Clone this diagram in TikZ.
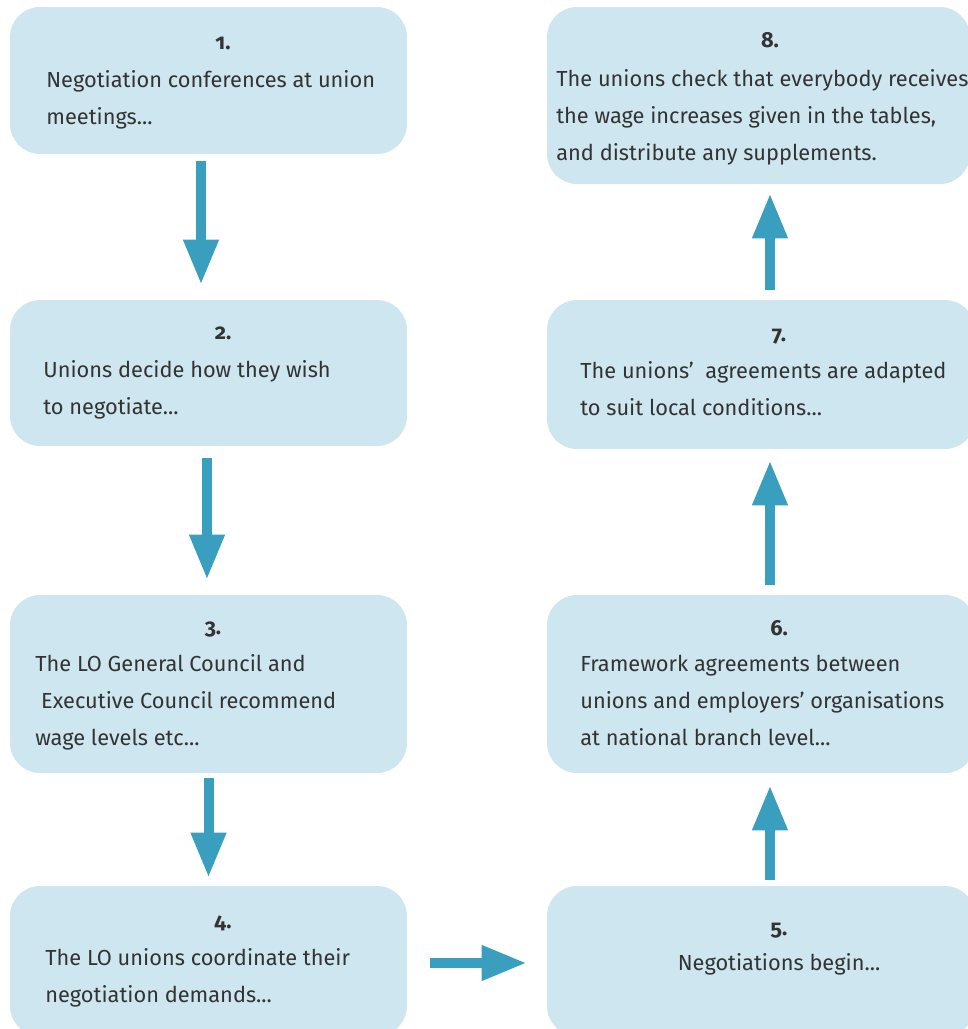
\documentclass[tikz,border=0pt]{standalone}
\usepackage{fontspec}
\setmainfont{Fira Sans}[Numbers=OldStyle]
\usetikzlibrary{arrows.meta,positioning}

\definecolor{boxblue}{HTML}{CDE6EF}
\definecolor{arrowblue}{HTML}{3A9FBF}
\definecolor{ink}{HTML}{333333}

\begin{document}
\begin{tikzpicture}[x=0.02cm, y=-0.02cm,
  stage/.style={fill=boxblue, rounded corners=0.6cm, inner sep=0pt},
  num/.style={font=\bfseries\fontsize{12.4}{21}\selectfont, text=ink, inner sep=0pt, anchor=base},
  txt/.style={font=\fontsize{12.4}{21}\selectfont, text=ink, inner sep=0pt, align=left, anchor=north west},
  flow/.style={arrowblue, line width=0.2cm, -{Triangle[length=0.9cm,width=0.66cm]}}]

\useasboundingbox (0,0) rectangle (968,1029);

% left column
\node[stage, minimum width=7.94cm, minimum height=2.94cm] (b1) at (208.5,80.5) {};
\node[stage, minimum width=7.94cm, minimum height=2.92cm] (b2) at (208.5,373) {};
\node[stage, minimum width=7.94cm, minimum height=3.56cm] (b3) at (208.5,684) {};
\node[stage, minimum width=7.94cm, minimum height=3.00cm] (b4) at (208.5,961) {};

% right column
\node[stage, minimum width=8.56cm, minimum height=3.00cm] (b5) at (761,961) {};
\node[stage, minimum width=8.56cm, minimum height=3.56cm] (b6) at (761,684) {};
\node[stage, minimum width=8.56cm, minimum height=2.98cm] (b7) at (761,374.5) {};
\node[stage, minimum width=8.46cm, minimum height=3.54cm] (b8) at (758.5,95.5) {};

\node[num] (n1) at (223,49) {1.};
\node[txt] (t1) at (46,70) {Negotiation conferences at union\\meetings...};
\node[num] (n2) at (223,339) {2.};
\node[txt] (t2) at (43,360) {Unions decide how they wish\\to negotiate...};
\node[num] (n3) at (213,634) {3.};
\node[txt] (t3) at (35,654) {The LO General Council and\\\ Executive Council recommend\\wage levels etc...};
\node[num] (n4) at (223,928) {4.};
\node[txt] (t4) at (45,948) {The LO unions coordinate their\\negotiation demands...};
\node[num] (n5) at (779,935) {5.};
\node[num, font=\fontsize{12.4}{21}\selectfont] (t5) at (779,970) {Negotiations begin...};
\node[num] (n6) at (779,635) {6.};
\node[txt] (t6) at (580,655) {Framework agreements between\\unions and employers’ organisations\\at national branch level...};
\node[num] (n7) at (779,341) {7.};
\node[txt] (t7) at (580,361) {The unions’ \ agreements are adapted\\to suit local conditions...};
\node[num] (n8) at (770,47) {8.};
\node[txt] (t8) at (556,69) {The unions check that everybody receives\\the wage increases given in the tables,\\and distribute any supplements.};

% arrows
\draw[flow, shorten <=0.14cm, shorten >=0.3cm] ([xshift=-0.15cm]b1.south) -- ([xshift=-0.15cm]b2.north);
\draw[flow, shorten <=0.24cm, shorten >=0.3cm] ([xshift=-0.03cm]b2.south) -- ([xshift=-0.03cm]b3.north);
\draw[flow, shorten <=0.1cm, shorten >=0.16cm] (b3.south) -- (b4.north);
\draw[flow, shorten <=0.46cm, shorten >=0.4cm] ([yshift=-0.04cm]b4.east) -- ([yshift=-0.04cm]b5.west);
\draw[flow, shorten <=0.12cm, shorten >=0.24cm] ([xshift=0.18cm]b5.north) -- ([xshift=0.18cm]b6.south);
\draw[flow, shorten <=0.2cm, shorten >=0.22cm] ([xshift=0.18cm]b6.north) -- ([xshift=0.18cm]b7.south);
\draw[flow, shorten <=0.2cm, shorten >=0.18cm] ([xshift=0.18cm]b7.north) -- ([xshift=0.18cm]b7.north |- b8.south);

\end{tikzpicture}
\end{document}
